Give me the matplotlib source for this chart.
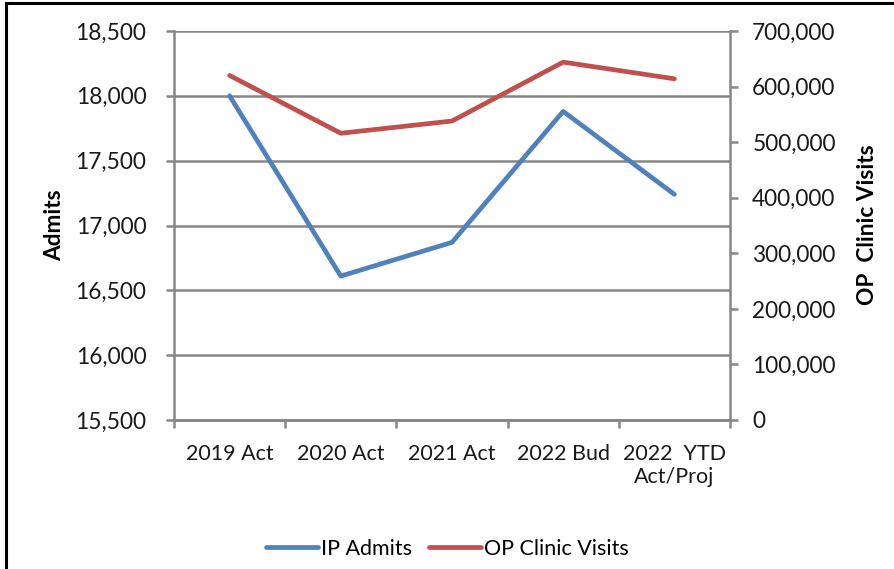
import numpy as np
import matplotlib.pyplot as plt
from matplotlib.patches import Rectangle
from matplotlib.ticker import FuncFormatter

plt.rcParams['font.family'] = ['Lato', 'DejaVu Sans']

categories = ['2019 Act', '2020 Act', '2021 Act', '2022 Bud', '2022  YTD\nAct/Proj']
ip_admits = [18000, 16610, 16870, 17880, 17240]
op_visits = [620000, 516000, 538000, 644000, 614000]

blue = '#4F81BD'
red = '#C0504D'
grey = '#868686'
fs = 15.5

fig = plt.figure(figsize=(8.95, 5.69), dpi=100)
fig.patches.append(Rectangle((6 / 895, -0.1), 1.2, 1 - 3 / 569 + 0.1, transform=fig.transFigure,
                             fill=False, edgecolor='black', linewidth=2.2))

ax = fig.add_axes([174 / 895, 1 - 420 / 569, (730 - 174) / 895, (420 - 31) / 569])
ax2 = ax.twinx()

x = np.arange(len(categories))
ax.plot(x, ip_admits, color=blue, linewidth=3.4, solid_capstyle='round', label='IP Admits', zorder=3)
ax2.plot(x, op_visits, color=red, linewidth=3.4, solid_capstyle='round', label='OP Clinic Visits', zorder=3)

ax.set_xlim(-0.5, len(categories) - 0.5)
ax.set_ylim(15500, 18500)
ax.set_yticks(np.arange(15500, 18501, 500))
ax2.set_ylim(0, 700000)
ax2.set_yticks(np.arange(0, 700001, 100000))
comma = FuncFormatter(lambda v, p: f'{int(v):,}')
ax.yaxis.set_major_formatter(comma)
ax2.yaxis.set_major_formatter(comma)

ax.set_xticks(x)
ax.set_xticklabels(categories, fontsize=fs, color='#1a1a1a')
ax.set_xticks(np.arange(-0.5, len(categories), 1), minor=True)
ax.tick_params(axis='x', which='major', length=0, pad=17)
ax.tick_params(axis='x', which='minor', length=6, width=1.8, color=grey)
ax.tick_params(axis='y', length=6, width=1.8, color=grey, labelsize=16.3, labelcolor='#1a1a1a', pad=14)
ax2.tick_params(axis='y', length=6, width=1.8, color=grey, labelsize=16.3, labelcolor='#1a1a1a', pad=10)

ax.grid(axis='y', color=grey, linewidth=1.8)
ax.set_axisbelow(True)
for a in (ax, ax2):
    a.spines['top'].set_visible(False)
    for s in ('left', 'right', 'bottom'):
        a.spines[s].set_color(grey)
        a.spines[s].set_linewidth(1.8)
ax.spines['right'].set_visible(False)
ax2.spines['left'].set_visible(False)

fig.text(55 / 895, 1 - 225 / 569, 'Admits', rotation=90, fontsize=16.3, fontweight='bold',
         ha='center', va='center')
fig.text(868 / 895, 1 - 225 / 569, 'OP  Clinic Visits', rotation=90, fontsize=16.3, fontweight='bold',
         ha='center', va='center')

h1, l1 = ax.get_legend_handles_labels()
h2, l2 = ax2.get_legend_handles_labels()
fig.legend(h1 + h2, l1 + l2, loc='center', bbox_to_anchor=(0.5, 1 - 549 / 569), ncol=2,
           frameon=False, fontsize=fs, handlelength=2.4, handletextpad=0.15, columnspacing=0.8)

fig.savefig('out.png', dpi=100)
